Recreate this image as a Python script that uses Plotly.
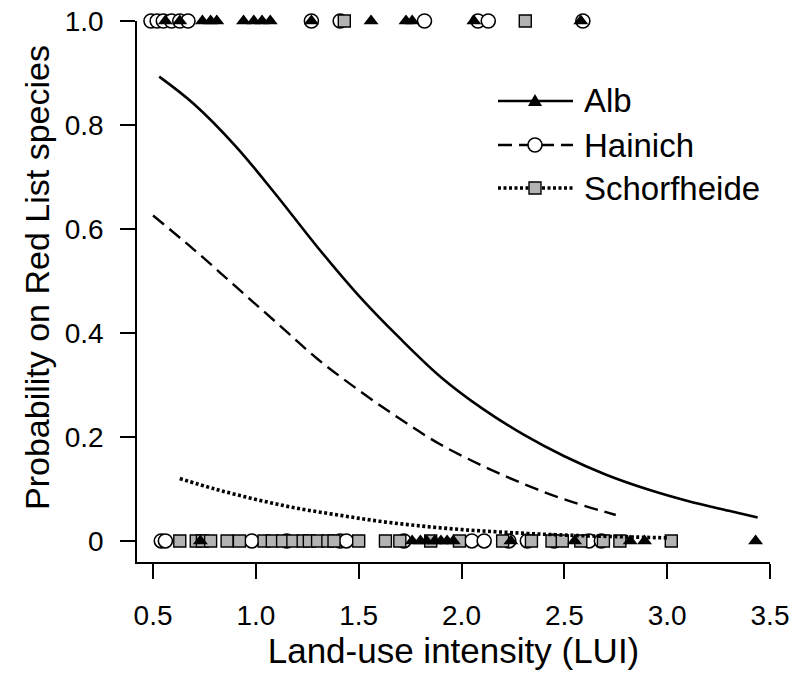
import plotly.graph_objects as go

# ---- observations: presence (1) / absence (0) of Red List species per plot ----
alb_present = [0.56, 0.63, 0.74, 0.78, 0.81, 0.94, 0.99, 1.03, 1.07, 1.27, 1.56, 1.73, 1.76, 2.06, 2.58]
alb_absent = [0.73, 1.76, 1.80, 1.83, 1.87, 1.90, 1.93, 1.96, 2.24, 2.55, 2.82, 2.89, 3.43]
hainich_present = [0.49, 0.52, 0.55, 0.59, 0.63, 0.67, 1.27, 1.41, 1.82, 2.08, 2.13, 2.59]
hainich_absent = [0.54, 0.56, 0.98, 1.15, 1.41, 1.44, 1.72, 2.05, 2.11, 2.23, 2.32, 2.45, 2.62, 2.68]
schorf_present = [1.43, 2.31]
schorf_absent = [0.63, 0.71, 0.74, 0.78, 0.86, 0.92, 1.04, 1.08, 1.13, 1.18, 1.23, 1.26, 1.30,
                 1.35, 1.38, 1.50, 1.63, 1.70, 1.85, 1.99, 2.20, 2.34, 2.44, 2.49, 2.58, 2.69,
                 2.77, 3.02]

# ---- fitted probability curves ----
alb_lui = [0.53, 0.70, 0.90, 1.10, 1.30, 1.50, 1.70, 1.90, 2.10, 2.30, 2.50, 2.70, 2.90, 3.10, 3.30, 3.44]
alb_prob = [0.893, 0.84, 0.76, 0.665, 0.565, 0.472, 0.39, 0.315, 0.255, 0.205, 0.163, 0.128, 0.10, 0.077, 0.058, 0.045]
hainich_lui = [0.50, 0.70, 0.90, 1.10, 1.30, 1.50, 1.70, 1.90, 2.10, 2.30, 2.50, 2.75]
hainich_prob = [0.626, 0.56, 0.49, 0.42, 0.35, 0.29, 0.235, 0.185, 0.145, 0.11, 0.08, 0.05]
schorf_lui = [0.63, 0.80, 1.00, 1.20, 1.40, 1.60, 1.80, 2.00, 2.20, 2.40, 2.60, 2.80, 3.00]
schorf_prob = [0.12, 0.10, 0.08, 0.063, 0.05, 0.038, 0.029, 0.022, 0.017, 0.013, 0.010, 0.008, 0.006]

x_ticks = [0.5, 1.0, 1.5, 2.0, 2.5, 3.0, 3.5]
x_tick_text = ["0.5", "1.0", "1.5", "2.0", "2.5", "3.0", "3.5"]
y_ticks = [0, 0.2, 0.4, 0.6, 0.8, 1.0]
y_tick_text = ["0", "0.2", "0.4", "0.6", "0.8", "1.0"]

legend_names = ["Alb", "Hainich", "Schorfheide"]
y_title = "Probability on Red List species"
x_title = "Land-use intensity (LUI)"

FONT = "Liberation Sans, Arial, Helvetica, sans-serif"
W, H = 794, 673
ML, MR, MT, MB = 137, 24, 21, 111
SQUARE_GREY = "#b3b3b3"

fig = go.Figure()


def points(xs, y, symbol, size, fill, line_w):
    fig.add_trace(go.Scatter(
        x=xs, y=[y] * len(xs), mode="markers", showlegend=False, cliponaxis=False,
        marker=dict(symbol=symbol, size=size, color=fill,
                    line=dict(color="black", width=line_w)),
    ))


# Hainich (open circles), Schorfheide (grey squares), Alb (filled triangles)
points(hainich_absent, 0, "circle", 14, "white", 1.6)
points(hainich_present, 1, "circle", 14, "white", 1.6)
points(schorf_absent, 0, "square", 12, SQUARE_GREY, 1.4)
points(schorf_present, 1, "square", 12, SQUARE_GREY, 1.4)
points(alb_absent, 0, "triangle-up", 13, "black", 0)
points(alb_present, 1, "triangle-up", 13, "black", 0)

fig.add_trace(go.Scatter(x=alb_lui, y=alb_prob, mode="lines", showlegend=False,
                         line=dict(color="black", width=2.6, shape="spline")))
fig.add_trace(go.Scatter(x=hainich_lui, y=hainich_prob, mode="lines", showlegend=False,
                         line=dict(color="black", width=2.4, dash="14px,7px", shape="spline")))
fig.add_trace(go.Scatter(x=schorf_lui, y=schorf_prob, mode="lines", showlegend=False,
                         line=dict(color="black", width=3.6, dash="3px,2.5px", shape="spline")))

# ---- legend block (drawn in pixel space) ----
PW = W - ML - MR
PH = H - MT - MB


def px(x):
    return (x - ML) / PW


def py(y):
    return 1 - (y - MT) / PH


shapes = []
annotations = []
rows = [101, 145, 188]
dashes = ["solid", "14px,7px", "3px,2.5px"]
widths = [2.6, 2.4, 3.6]
for name, yy, dsh, wd in zip(legend_names, rows, dashes, widths):
    shapes.append(dict(type="line", xref="paper", yref="paper",
                       x0=px(498), x1=px(573), y0=py(yy), y1=py(yy),
                       line=dict(color="black", width=wd, dash=dsh)))
    annotations.append(dict(text=name, xref="paper", yref="paper", x=px(582), y=py(yy),
                            xanchor="left", yanchor="middle", showarrow=False,
                            font=dict(family=FONT, size=33, color="black")))

cx = px(535)
# triangle key
shapes.append(dict(type="path", xref="paper", yref="paper", xsizemode="pixel", ysizemode="pixel",
                   xanchor=cx, yanchor=py(rows[0]),
                   path="M -7,-5 L 7,-5 L 0,7 Z", fillcolor="black", line=dict(width=0)))
# circle key
shapes.append(dict(type="circle", xref="paper", yref="paper", xsizemode="pixel", ysizemode="pixel",
                   xanchor=cx, yanchor=py(rows[1]), x0=-7, x1=7, y0=-7, y1=7,
                   fillcolor="white", line=dict(color="black", width=1.6)))
# square key
shapes.append(dict(type="rect", xref="paper", yref="paper", xsizemode="pixel", ysizemode="pixel",
                   xanchor=cx, yanchor=py(rows[2]), x0=-6, x1=6, y0=-6, y1=6,
                   fillcolor=SQUARE_GREY, line=dict(color="black", width=1.4)))

# y-axis title, placed as rotated text left of the tick labels
annotations.append(dict(text=y_title, xref="paper", yref="paper", x=px(37), y=py(278),
                        xanchor="center", yanchor="middle", textangle=-90, showarrow=False,
                        font=dict(family=FONT, size=34, color="black")))

axis_common = dict(showline=True, linecolor="black", linewidth=1.5, ticks="outside",
                   ticklen=15, tickwidth=1.5, tickcolor="black", showgrid=False,
                   zeroline=False, automargin=False,
                   tickfont=dict(family=FONT, size=28, color="black"))

fig.update_layout(
    width=W, height=H,
    margin=dict(l=ML, r=MR, t=MT, b=MB, autoexpand=False),
    paper_bgcolor="white", plot_bgcolor="white",
    showlegend=False,
    shapes=shapes, annotations=annotations,
    xaxis=dict(range=[0.422, 3.5], tickvals=x_ticks, ticktext=x_tick_text,
               ticklabelstandoff=13,
               title=dict(text=x_title, standoff=7,
                          font=dict(family=FONT, size=35, color="black")),
               **axis_common),
    yaxis=dict(range=[-0.0404, 1.0], tickvals=y_ticks, ticktext=y_tick_text,
               ticklabelstandoff=11, **axis_common),
)

fig.write_html("out.html")
